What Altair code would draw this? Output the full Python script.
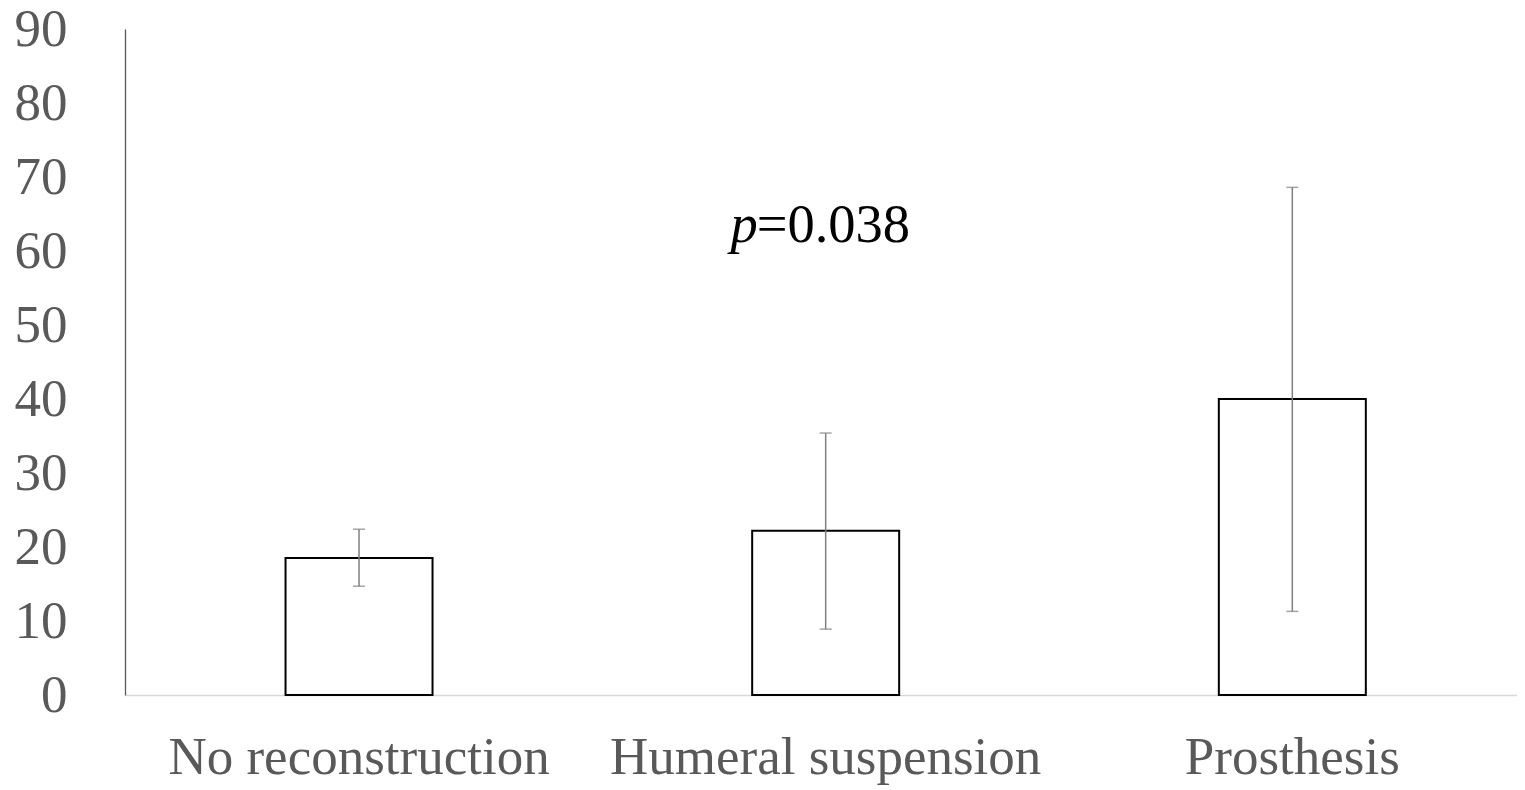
import altair as alt
import pandas as pd

categories = ["No reconstruction", "Humeral suspension", "Prosthesis"]
means = [18.5, 22.2, 40.0]
err_low = [14.7, 8.9, 11.3]
err_high = [22.4, 35.4, 68.6]

df = pd.DataFrame({"group": categories, "mean": means, "lo": err_low, "hi": err_high})
ann = pd.DataFrame({"group": ["Humeral suspension"], "y": [61.2]})

FONT = "Liberation Serif"

x_scale = alt.Scale(paddingInner=0.685, paddingOuter=0.334, align=0.515)
x_enc = alt.X("group:N", sort=categories, title=None, scale=x_scale,
              axis=alt.Axis(labelAngle=0, labelFont=FONT, labelFontSize=53, labelColor="#595959",
                            labelPadding=36, labelLimit=0, ticks=False, domainColor="#d9d9d9",
                            domainWidth=1.5, grid=False))
y_scale = alt.Scale(domain=[0, 90], nice=False)
y_axis = alt.Axis(values=list(range(0, 91, 10)), labelFont=FONT, labelFontSize=53, labelColor="#595959",
                  labelPadding=58, ticks=False, domainColor="#595959", domainWidth=1.3, grid=False)

bars = alt.Chart(df).mark_bar(fill="white", stroke="black", strokeWidth=2).encode(
    x=x_enc,
    y=alt.Y("mean:Q", scale=y_scale, axis=y_axis, title=None),
)

rules = alt.Chart(df).mark_rule(color="#7f7f7f", strokeWidth=1.5).encode(
    x=alt.X("group:N", sort=categories),
    y=alt.Y("lo:Q"),
    y2="hi:Q",
)
caps_hi = alt.Chart(df).mark_tick(color="#7f7f7f", size=12, thickness=1.5).encode(
    x=alt.X("group:N", sort=categories), y=alt.Y("hi:Q"))
caps_lo = alt.Chart(df).mark_tick(color="#7f7f7f", size=12, thickness=1.5).encode(
    x=alt.X("group:N", sort=categories), y=alt.Y("lo:Q"))

p_txt = alt.Chart(ann).mark_text(text="p", font=FONT, fontSize=54.5, fontStyle="italic", color="black",
                                 align="right", baseline="alphabetic", dx=-68).encode(
    x=alt.X("group:N", sort=categories), y=alt.Y("y:Q"))
rest_txt = alt.Chart(ann).mark_text(text="=0.038", font=FONT, fontSize=54.5, color="black",
                                    align="left", baseline="alphabetic", dx=-69).encode(
    x=alt.X("group:N", sort=categories), y=alt.Y("y:Q"))

chart = alt.layer(bars, rules, caps_hi, caps_lo, p_txt, rest_txt).properties(
    width=1392, height=666,
    autosize=alt.AutoSizeParams(type="none"),
    padding={"left": 117, "top": 21, "right": 0, "bottom": 94},
    background="white",
).configure_view(stroke=None)

chart.save("out.html", embed_options={"renderer": "svg", "actions": False})
